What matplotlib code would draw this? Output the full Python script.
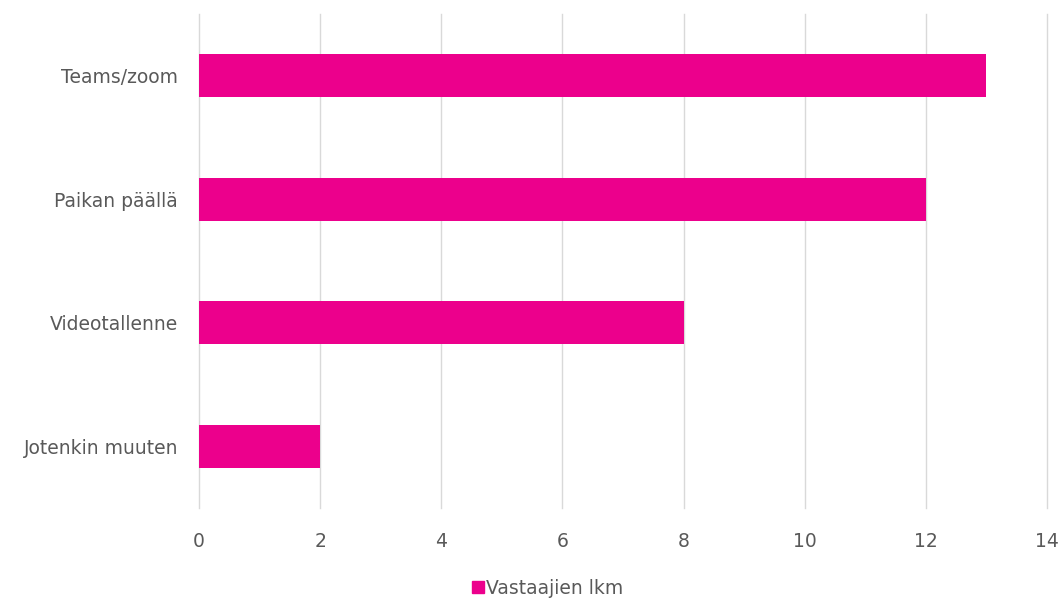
import matplotlib
matplotlib.use("Agg")
import matplotlib.pyplot as plt
from matplotlib.patches import Patch

categories = ["Teams/zoom", "Paikan päällä", "Videotallenne", "Jotenkin muuten"]
values = [13, 12, 8, 2]
series_name = "Vastaajien lkm"
xticks = [0, 2, 4, 6, 8, 10, 12, 14]

bar_color = "#EC008C"
text_color = "#595959"
grid_color = "#D9D9D9"
fs = 13.5

fig = plt.figure(figsize=(10.64, 5.99), dpi=100)
ax = fig.add_axes([199/1064, 1-508/599, (1047-199)/1064, (508-14)/599])

ypos = list(range(len(categories)))[::-1]
ax.barh(ypos, values, height=0.35, color=bar_color, zorder=3)
ax.set_yticks(ypos)
ax.set_yticklabels(categories, fontsize=fs, color=text_color)
ax.set_xlim(0, 14)
ax.set_ylim(-0.5, 3.5)
ax.set_xticks(xticks)
ax.set_xticklabels([str(t) for t in xticks], fontsize=fs, color=text_color)
ax.tick_params(axis="both", length=0)
ax.tick_params(axis="y", pad=15)
ax.tick_params(axis="x", pad=17)
for s in ax.spines.values():
    s.set_visible(False)
ax.grid(axis="x", color=grid_color, linewidth=1, zorder=0)
for gl in ax.get_xgridlines():
    gl.set_clip_on(False)
ax.set_axisbelow(True)

fig.legend(handles=[Patch(color=bar_color, label=series_name)], loc="center",
           bbox_to_anchor=(548/1064, 1-588/599), frameon=False, fontsize=fs,
           handlelength=0.6, handleheight=0.6, handletextpad=0.15, labelcolor=text_color)

fig.savefig("out.png", dpi=100)
